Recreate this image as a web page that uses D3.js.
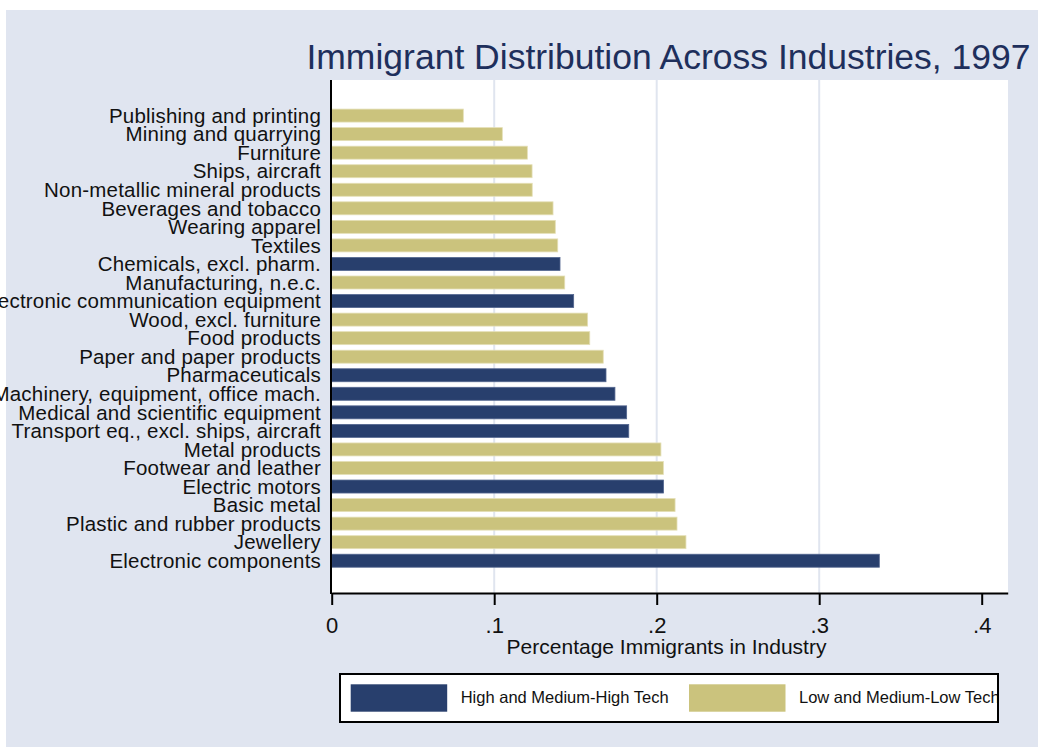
<!DOCTYPE html>
<html>
<head>
<meta charset="utf-8">
<script src="https://cdn.jsdelivr.net/npm/d3@7"></script>
<style>
  body { margin: 0; background: #ffffff; }
  svg { display: block; font-family: 'Liberation Sans', Arial, sans-serif; }
</style>
</head>
<body>
<svg width="1038" height="747"></svg>
<script>
// data, top bar first
const industries = [
  'Publishing and printing',
  'Mining and quarrying',
  'Furniture',
  'Ships, aircraft',
  'Non-metallic mineral products',
  'Beverages and tobacco',
  'Wearing apparel',
  'Textiles',
  'Chemicals, excl. pharm.',
  'Manufacturing, n.e.c.',
  'Electronic communication equipment',
  'Wood, excl. furniture',
  'Food products',
  'Paper and paper products',
  'Pharmaceuticals',
  'Machinery, equipment, office mach.',
  'Medical and scientific equipment',
  'Transport eq., excl. ships, aircraft',
  'Metal products',
  'Footwear and leather',
  'Electric motors',
  'Basic metal',
  'Plastic and rubber products',
  'Jewellery',
  'Electronic components'
];

const shares = [
  0.0810, 0.1050, 0.1204, 0.1233, 0.1234, 0.1362, 0.1376, 0.1391, 0.1405,
  0.1434, 0.1489, 0.1575, 0.1588, 0.1671, 0.1688, 0.1743, 0.1815, 0.1828,
  0.2026, 0.2041, 0.2042, 0.2113, 0.2125, 0.2180, 0.3370
];

// 'high' = High and Medium-High Tech, 'low' = Low and Medium-Low Tech
const techGroup = [
  'low', 'low', 'low', 'low', 'low', 'low', 'low', 'low', 'high',
  'low', 'high', 'low', 'low', 'low', 'high', 'high', 'high', 'high',
  'low', 'low', 'high', 'low', 'low', 'low', 'high'
];

const groupKeys = ['high', 'low'];
const groupLabels = ['High and Medium-High Tech', 'Low and Medium-Low Tech'];

const xTickValues = [0, 0.1, 0.2, 0.3, 0.4];
const xTickLabels = ['0', '.1', '.2', '.3', '.4'];
const gridValues = [0.1, 0.2, 0.3];

const sample = industries.map((name, i) => ({
  name: name,
  value: shares[i],
  group: techGroup[i]
}));

const navy = '#283f6d';
const khaki = '#cbc37d';
const bgColor = '#e0e5f0';

const color = d3.scaleOrdinal()
  .domain(groupKeys)
  .range([navy, khaki]);
const outline = d3.scaleOrdinal()
  .domain(groupKeys)
  .range(['#53668f', '#e4dfb6']);

const plot = { left: 331, right: 1008, top: 80, bottom: 593 };

const svg = d3.select('svg');

// background
svg.append('rect')
  .attr('x', 6)
  .attr('y', 10)
  .attr('width', 1032)
  .attr('height', 737)
  .attr('fill', bgColor);

svg.append('rect')
  .attr('x', plot.left)
  .attr('y', plot.top)
  .attr('width', plot.right - plot.left)
  .attr('height', plot.bottom - plot.top)
  .attr('fill', '#ffffff');

// scales
const xScale = d3.scaleLinear()
  .domain([0, 0.416])
  .range([331.7, 1007.7]);

const yScale = d3.scaleBand()
  .domain(industries)
  .range([106.3, 570])
  .paddingInner(0.3)
  .paddingOuter(0.15);

// grid
svg.append('g')
  .selectAll('line')
  .data(gridValues)
  .enter()
  .append('line')
  .attr('x1', (d) => xScale(d))
  .attr('x2', (d) => xScale(d))
  .attr('y1', plot.top)
  .attr('y2', plot.bottom)
  .attr('stroke', '#e0e5ef')
  .attr('stroke-width', 2);

// bars
svg.append('g')
  .selectAll('rect')
  .data(sample)
  .enter()
  .append('rect')
  .attr('x', xScale(0))
  .attr('y', (d) => yScale(d.name))
  .attr('width', (d) => xScale(d.value) - xScale(0))
  .attr('height', yScale.bandwidth())
  .attr('fill', (d) => color(d.group))
  .attr('stroke', (d) => outline(d.group))
  .attr('stroke-width', 0.8);

// y axis labels
const yAxis = svg.append('g')
  .attr('transform', `translate(${plot.left}, 0)`)
  .call(d3.axisLeft(yScale).tickSize(0).tickPadding(10));
yAxis.select('.domain').remove();
yAxis.selectAll('text')
  .attr('font-family', "'Liberation Sans', Arial, sans-serif")
  .attr('font-size', '20.5px')
  .attr('letter-spacing', '0.2px')
  .attr('fill', '#111111')
  .attr('dy', '0.35em');

svg.append('line')
  .attr('x1', plot.left)
  .attr('x2', plot.left)
  .attr('y1', plot.top)
  .attr('y2', plot.bottom + 1)
  .attr('stroke', '#000000')
  .attr('stroke-width', 2);

// x axis
const xAxis = svg.append('g')
  .attr('transform', `translate(0, ${plot.bottom})`)
  .call(d3.axisBottom(xScale)
    .tickValues(xTickValues)
    .tickFormat((d, i) => xTickLabels[i])
    .tickSize(12)
    .tickSizeOuter(0)
    .tickPadding(12));
xAxis.select('.domain')
  .attr('stroke', '#000000')
  .attr('stroke-width', 2);
xAxis.selectAll('.tick line')
  .attr('stroke', '#000000')
  .attr('stroke-width', 2);
xAxis.selectAll('text')
  .attr('font-family', "'Liberation Sans', Arial, sans-serif")
  .attr('font-size', '22px')
  .attr('fill', '#111111');

// titles
svg.append('text')
  .attr('x', 668.5)
  .attr('y', 69)
  .attr('text-anchor', 'middle')
  .attr('font-size', '35.5px')
  .attr('fill', '#1e2f5c')
  .text('Immigrant Distribution Across Industries, 1997');

svg.append('text')
  .attr('x', 666.5)
  .attr('y', 654)
  .attr('text-anchor', 'middle')
  .attr('font-size', '21px')
  .attr('fill', '#111111')
  .text('Percentage Immigrants in Industry');

// legend
const legend = svg.append('g');

legend.append('rect')
  .attr('x', 340)
  .attr('y', 674)
  .attr('width', 658)
  .attr('height', 48)
  .attr('fill', '#ffffff')
  .attr('stroke', '#000000')
  .attr('stroke-width', 2);

svg.append('clipPath')
  .attr('id', 'legend-clip')
  .append('rect')
  .attr('x', 340)
  .attr('y', 674)
  .attr('width', 657)
  .attr('height', 48);

const legendX = [350.7, 689];
const legendItems = legend.selectAll('g.item')
  .data(groupKeys)
  .enter()
  .append('g')
  .attr('class', 'item')
  .attr('clip-path', 'url(#legend-clip)');

legendItems.append('rect')
  .attr('x', (d, i) => legendX[i])
  .attr('y', 684.3)
  .attr('width', 96.5)
  .attr('height', 27.4)
  .attr('fill', (d) => color(d));

legendItems.append('text')
  .attr('x', (d, i) => legendX[i] + 110)
  .attr('y', 703.3)
  .attr('font-size', '16.5px')
  .attr('fill', '#111111')
  .text((d, i) => groupLabels[i]);
</script>
</body>
</html>
